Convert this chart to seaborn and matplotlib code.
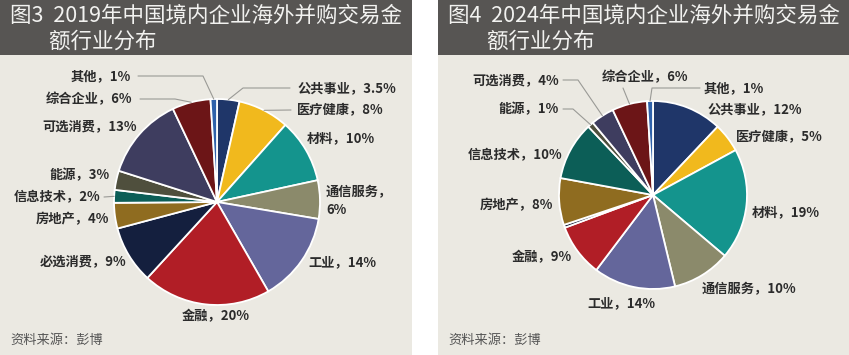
import matplotlib
matplotlib.use("Agg")
import matplotlib.pyplot as plt
import seaborn as sns
import numpy as np
from matplotlib.patches import Rectangle

sns.set_style("white")
plt.rcParams['font.family'] = ['Noto Sans CJK SC', 'DejaVu Sans']

# 行业（顺时针，从12点方向开始）
sectors = ['公共事业', '医疗健康', '材料', '通信服务', '工业', '金融', '必选消费',
           '房地产', '信息技术', '能源', '可选消费', '综合企业', '其他']
share_2019 = [3.5, 8, 10, 6, 14, 20, 9, 4, 2, 3, 13, 6, 1]
share_2024 = [12, 5, 19, 10, 14, 9, 0.5, 8, 10, 1, 4, 6, 1]
labels_2019 = ['公共事业，3.5%', '医疗健康，8%', '材料，10%', '通信服务，\n6%', '工业，14%',
               '金融，20%', '必选消费，9%', '房地产，4%', '信息技术，2%', '能源，3%',
               '可选消费，13%', '综合企业，6%', '其他，1%']
labels_2024 = ['公共事业，12%', '医疗健康，5%', '材料，19%', '通信服务，10%', '工业，14%',
               '金融，9%', '', '房地产，8%', '信息技术，10%', '能源，1%',
               '可选消费，4%', '综合企业，6%', '其他，1%']
titles = ['图3  2019年中国境内企业海外并购交易金\n        额行业分布',
          '图4  2024年中国境内企业海外并购交易金\n        额行业分布']
source = '资料来源：彭博'

palette = sns.color_palette(['#1f3669', '#f1b91d', '#14948d', '#8b8a6b', '#64669b',
                             '#b11e26', '#141f3e', '#8f6c20', '#0c5e57', '#4f4f3d',
                             '#3e3d5f', '#6c1517', '#2f62ab'])

W, H = 849, 355
fig = plt.figure(figsize=(W / 100, H / 100), dpi=100)
fig.patch.set_facecolor('white')

# 背景面板
bg = fig.add_axes([0, 0, 1, 1])
bg.set_xlim(0, W)
bg.set_ylim(H, 0)
bg.axis('off')
panels = [(0, 412), (438, 849)]
for x0, x1 in panels:
    bg.add_patch(Rectangle((x0, 0), x1 - x0, H, color='#ebe9e2', lw=0))
    bg.add_patch(Rectangle((x0, 0), x1 - x0, 55, color='#575553', lw=0))

# 标签布局（像素坐标）：文字位置、对齐、引线起点/拐点
layout_2019 = {
    '公共事业': (297, 88, 'left', [(290, 88), (243, 88)]),
    '医疗健康': (297, 110, 'left', [(291, 110)]),
    '材料': (307, 138, 'left', None),
    '通信服务': (326, 201, 'left', None),
    '工业': (308, 262, 'left', None),
    '金融': (216, 316, 'center', None),
    '必选消费': (126, 262, 'right', None),
    '房地产': (109, 219, 'right', None),
    '信息技术': (100, 197, 'right', [(104, 197)]),
    '能源': (110, 175, 'right', None),
    '可选消费': (137, 126, 'right', None),
    '综合企业': (132, 99, 'right', [(140, 99), (175, 99)]),
    '其他': (131, 76, 'right', [(138, 76), (203, 76)]),
}
layout_2024 = {
    '公共事业': (708, 109, 'left', None),
    '医疗健康': (736, 137, 'left', None),
    '材料': (752, 212, 'left', None),
    '通信服务': (702, 289, 'left', None),
    '工业': (621, 303, 'center', None),
    '金融': (572, 257, 'right', None),
    '必选消费': None,
    '房地产': (553, 205, 'right', None),
    '信息技术': (562, 155, 'right', None),
    '能源': (559, 109, 'right', [(563, 109), (573, 109)]),
    '可选消费': (559, 80, 'right', [(563, 80), (578, 80)]),
    '综合企业': (645, 77, 'center', [(623, 88)]),
    '其他': (704, 88, 'left', [(700, 88), (652, 88)]),
}

pies = [
    (share_2019, labels_2019, layout_2019, (217, 202), 103, 0),
    (share_2024, labels_2024, layout_2024, (653, 195), 94, 1),
]

for vals, labs, layout, (cx, cy), r, k in pies:
    ax = fig.add_axes([0, 0, 1, 1])
    ax.patch.set_alpha(0)
    ax.pie(vals, colors=palette, startangle=90, counterclock=False,
           wedgeprops=dict(edgecolor='white', linewidth=1.3))
    ax.set_xlim(-cx / r, (W - cx) / r)
    ax.set_ylim(-(H - cy) / r, cy / r)
    ax.axis('off')

    def px(p):
        return ((p[0] - cx) / r, (cy - p[1]) / r)

    total = sum(vals)
    cum = np.cumsum([0] + list(vals))
    for i, name in enumerate(sectors):
        spec = layout[name]
        if spec is None or labs[i] == '':
            continue
        tx, ty, ha, pts = spec
        x, y = px((tx, ty))
        ax.text(x, y, labs[i], ha=ha, va='center', fontsize=9.5,
                color='#2b2b2b', fontweight='bold', linespacing=1.3)
        if pts:
            ang = np.deg2rad(90 - 360 * (cum[i] + vals[i] / 2) / total)
            path = [px(p) for p in pts] + [(np.cos(ang), np.sin(ang))]
            xs, ys = zip(*path)
            ax.plot(xs, ys, color='#9a9a96', lw=0.8)

# 标题与来源
for (x0, x1), t in zip(panels, titles):
    bg.text(x0 + 10, 29, t, ha='left', va='center', fontsize=15.5,
            color='#f2f2f0', linespacing=1.25)
    bg.text(x0 + 10, 340, source, ha='left', va='center', fontsize=9.5,
            color='#555555')

fig.savefig('out.png', dpi=100, facecolor=fig.get_facecolor())
